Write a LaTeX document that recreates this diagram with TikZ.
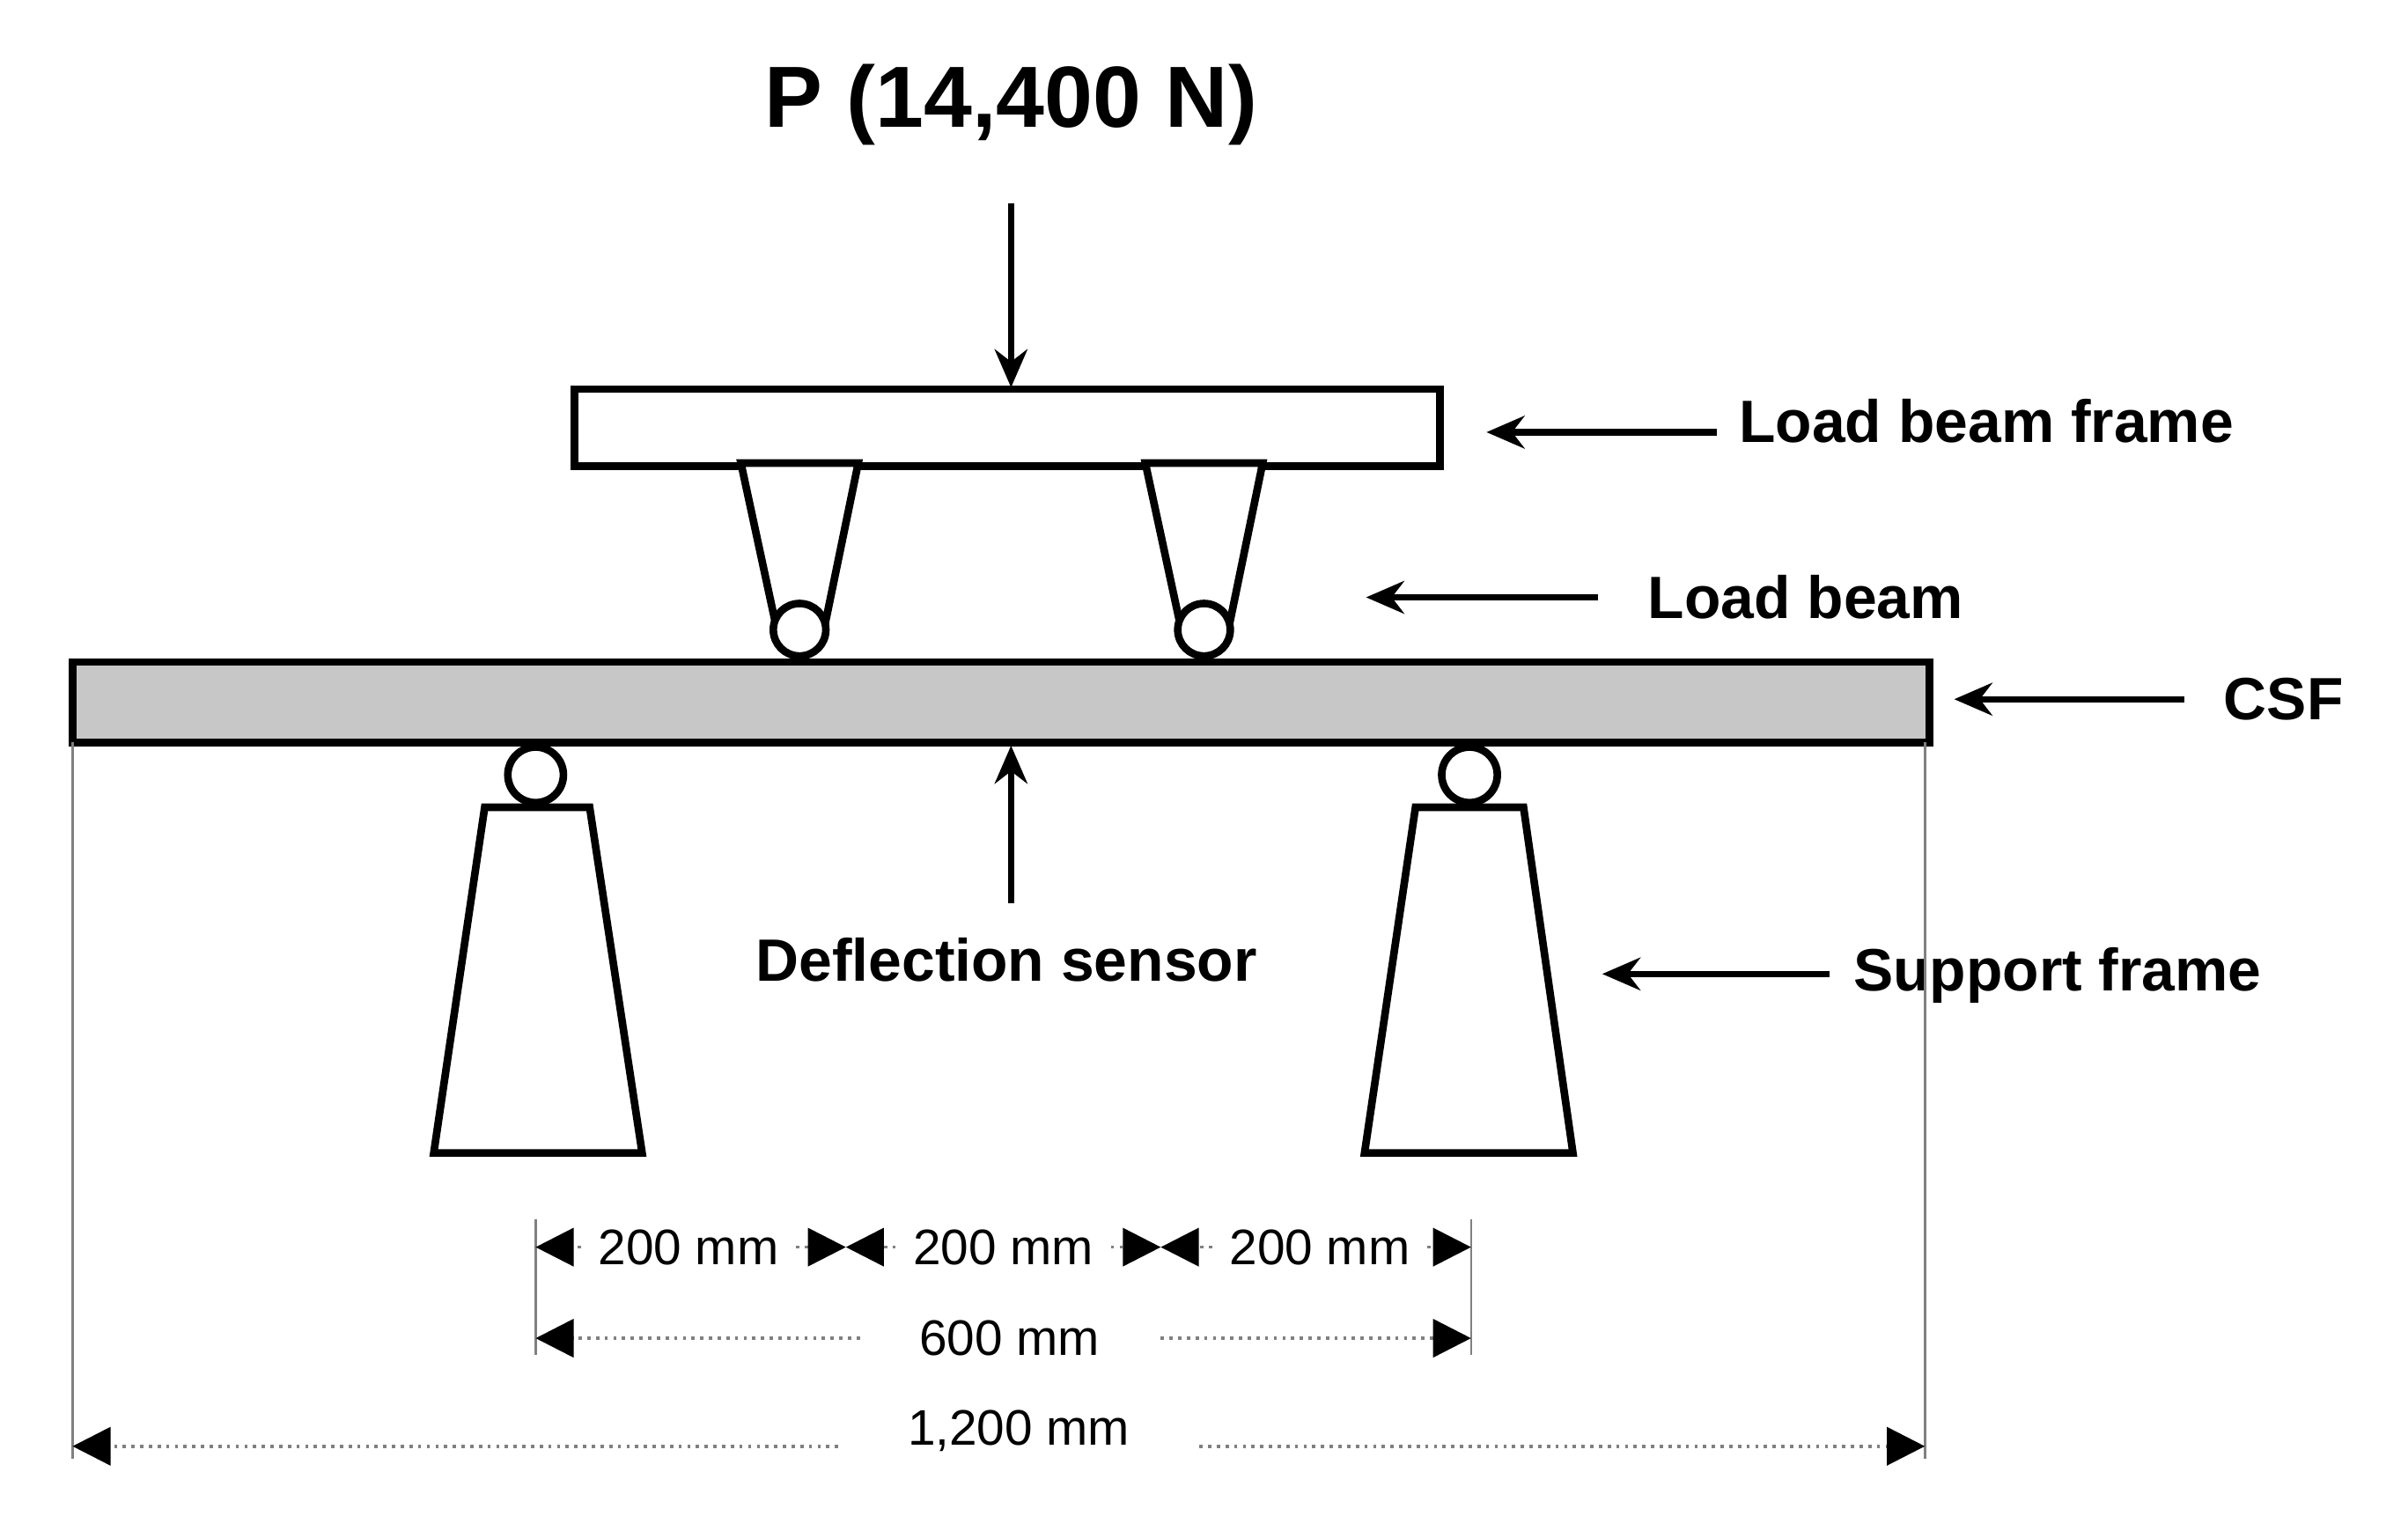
\documentclass[tikz,border=0pt]{standalone}
\usepackage{fontspec}
\setmainfont{Liberation Sans}
\usetikzlibrary{arrows.meta}
\begin{document}
\begin{tikzpicture}[x=0.01cm,y=-0.01cm,
  part/.style={draw=black,line width=1.4pt},
  lbl/.style={font=\fontsize{11}{13}\selectfont\bfseries,inner sep=0pt},
  ptr/.style={-{Stealth[length=7pt,width=6pt]},line width=1.2pt},
  dim/.style={font=\fontsize{9.2}{11}\selectfont,inner ysep=0pt,inner xsep=3pt},
  dl/.style={draw=gray,line width=0.6pt,densely dotted},
  dtip/.style={-{Triangle[length=7pt,width=7pt,color=black,fill=black]}},
  ext/.style={draw=gray,line width=0.4pt}]
\useasboundingbox (0,0) rectangle (1560,996);
% title and load
\node[font=\fontsize{16}{19}\selectfont\bfseries,inner sep=0pt] (P) at (655,68) {P (14,400 N)};
\coordinate (ptop) at (655,132);
\coordinate (lbf) at (655,251);
% load beam frame
\draw[part,fill=white] (372,252) rectangle (933,302);
\draw[ptr] (ptop) -- (lbf);
% holders
\draw[part,fill=white] (480,300) -- (502,402) -- (535,402) -- (556,300) -- cycle;
\draw[part,fill=white] (742,300) -- (764,402) -- (797,402) -- (818,300) -- cycle;
\node[part,circle,fill=white,minimum size=0.34cm,inner sep=0pt] (r1) at (518,408) {};
\node[part,circle,fill=white,minimum size=0.34cm,inner sep=0pt] (r2) at (780,408) {};
% CSF
\draw[part,fill=black!22] (47,429) rectangle (1250,481);
% supports
\node[part,circle,fill=white,minimum size=0.36cm,inner sep=0pt] (s1) at (347,502) {};
\node[part,circle,fill=white,minimum size=0.36cm,inner sep=0pt] (s2) at (952,502) {};
\draw[part,fill=white] (314,523) -- (382,523) -- (416,747) -- (281,747) -- cycle;
\draw[part,fill=white] (917,523) -- (987,523) -- (1019,747) -- (884,747) -- cycle;
% deflection sensor
\node[lbl] (ds) at (652,622) {Deflection sensor};
\coordinate (dsb) at (655,585);
\coordinate (dst) at (655,483);
\draw[ptr] (dsb) -- (dst);
% side labels
\node[lbl,anchor=west] (t1) at (1126,273) {Load beam frame};
\node[lbl,anchor=west] (t2) at (1067,387) {Load beam};
\node[lbl,anchor=west] (t3) at (1440,453) {CSF};
\node[lbl,anchor=west] (t4) at (1200,632) {Support frame};
\coordinate (a1) at (1112,280); \coordinate (b1) at (963,280);
\coordinate (a2) at (1035,387); \coordinate (b2) at (885,387);
\coordinate (a3) at (1415,453); \coordinate (b3) at (1266,453);
\coordinate (a4) at (1185,631); \coordinate (b4) at (1038,631);
\draw[ptr] (a1) -- (b1);
\draw[ptr] (a2) -- (b2);
\draw[ptr] (a3) -- (b3);
\draw[ptr] (a4) -- (b4);
% extension lines
\draw[ext] (347,790) -- (347,878);
\draw[ext] (953,790) -- (953,878);
\draw[ext] (47,481) -- (47,945);
\draw[ext] (1247,481) -- (1247,945);
% dimensions
\node[dim] (d1) at (446,808) {200 mm};
\node[dim] (d2) at (650,808) {200 mm};
\node[dim] (d3) at (855,808) {200 mm};
\coordinate (x0) at (347,808); \coordinate (x1) at (548,808);
\coordinate (x2) at (752,808); \coordinate (x3) at (953,808);
\draw[dl,dtip] (d1.west) -- (x0); \draw[dl,dtip] (d1.east) -- (x1);
\draw[dl,dtip] (d2.west) -- (x1); \draw[dl,dtip] (d2.east) -- (x2);
\draw[dl,dtip] (d3.west) -- (x2); \draw[dl,dtip] (d3.east) -- (x3);
\node[dim] (d6) at (654,867) {600 mm};
\coordinate (y0) at (347,867); \coordinate (y1) at (953,867);
\coordinate (y2) at (557,867); \coordinate (y3) at (752,867);
\draw[dl,dtip] (y2) -- (y0);
\draw[dl,dtip] (y3) -- (y1);
\node[dim] (d12) at (660,927) {1,200 mm};
\coordinate (z0) at (47,937); \coordinate (z1) at (1247,937);
\coordinate (z2) at (543,937); \coordinate (z3) at (777,937);
\draw[dl,dtip] (z2) -- (z0);
\draw[dl,dtip] (z3) -- (z1);
\end{tikzpicture}
\end{document}
